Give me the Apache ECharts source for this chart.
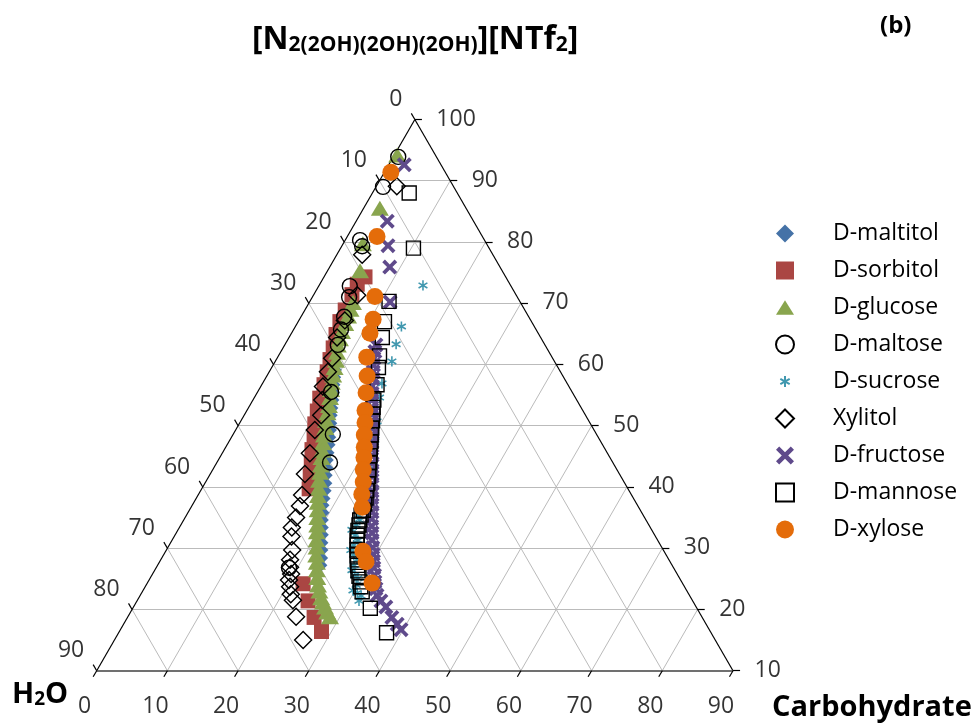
<!DOCTYPE html>
<html><head><meta charset="utf-8">
<script src="https://cdn.jsdelivr.net/npm/echarts@6/dist/echarts.min.js"></script>
<style>html,body{margin:0;padding:0;background:#fff}#c{width:978px;height:728px}</style>
</head><body><div id="c"></div>
<script>
// ---- data: water (wt%) and carbohydrate (wt%); ionic liquid = 100 - water - carbohydrate
const seriesNames = ['D-maltitol','D-sorbitol','D-glucose','D-maltose','D-sucrose','Xylitol','D-fructose','D-mannose','D-xylose'];

const maltitolWater = [29.1,29.9,30.6,31.3,31.9,32.6,33.3,34.0,34.7,35.5,36.2,36.9,37.5,38.2,38.9,39.7,40.4,41.1,41.8,42.5,43.2,44.0,44.7,45.3,46.0,46.6,47.2,47.9,48.5,49.2,49.9];
const maltitolCarb  = [6.9,7.4,7.9,8.5,9.0,9.5,10.0,10.6,11.1,11.6,12.1,12.7,13.2,13.7,14.2,14.7,15.2,15.8,16.3,16.9,17.4,17.9,18.3,18.9,19.4,20.0,20.6,21.2,21.8,22.4,22.9];

const sorbitolWater = [19.9,21.6,23.2,25.4,27.1,28.7,30.2,31.6,33.0,34.5,36.2,37.6,39.0,40.2,41.5,42.7,43.9,45.1,53.7,54.4,54.9,55.0];
const sorbitolCarb  = [5.8,5.3,5.4,5.7,5.9,6.4,7.1,7.6,8.2,8.8,9.3,10.0,10.7,11.7,12.4,13.4,14.3,15.2,22.1,24.2,26.4,28.6];

const glucoseWater = [5.4,12.2,17.5,20.1,23.7,24.6,25.5,26.5,27.6,28.5,29.3,30.0,30.8,31.6,32.4,33.2,33.9,34.7,35.5,36.3,37.1,37.8,38.6,39.4,40.1,40.8,41.5,42.2,43.0,43.7,44.4,45.0,45.6,46.3,46.9,47.5,48.2,48.8,49.5,50.0,50.6,51.2,51.7,52.0,52.3,52.4,52.5,52.6,52.6];
const glucoseCarb  = [0.4,2.3,2.8,4.6,6.2,6.4,6.6,6.8,7.0,7.3,7.5,8.0,8.5,8.9,9.3,9.7,10.2,10.7,11.2,11.6,12.0,12.5,12.9,13.4,13.9,14.4,14.9,15.4,15.9,16.5,17.0,17.5,18.1,18.7,19.3,19.8,20.4,21.0,21.6,22.3,22.9,23.6,24.3,25.0,25.8,26.4,27.1,27.8,28.6];

const maltoseWater = [5.4,10.0,17.6,17.8,22.8,23.8,26.1,27.6,29.3,34.1,37.3,40.0,54.4];
const maltoseCarb  = [0.7,1.0,2.1,2.9,4.4,5.2,6.1,6.7,7.5,10.4,14.1,16.0,18.8];

const sucroseWater = [12.4,18.8,21.0,23.0,26.2,27.7,30.0,31.8,34.7,37.7,40.3,41.4,42.4,43.4,44.2,45.0,45.7,46.3,46.8,47.2,40.5,42.4,42.4,44.2,44.1,45.7,45.5,47.2,46.5];
const sucroseCarb  = [14.7,15.0,15.7,16.5,16.9,17.7,19.3,20.5,22.6,24.4,24.3,24.8,25.5,26.1,26.9,27.8,28.7,29.7,30.5,31.4,24.9,24.6,26.3,26.1,27.8,27.9,29.4,29.7,31.3];

const xylitolWater = [8.0,18.5,22.5,26.3,28.8,31.2,32.9,34.8,36.0,37.4,39.5,42.1,44.5,46.6,47.8,49.3,50.7,51.5,52.5,53.6,54.2,54.6,55.4,55.8,56.3,56.5,57.4,58.3];
const xylitolCarb  = [2.9,3.6,6.2,6.5,6.8,7.8,8.3,8.8,9.8,10.9,11.2,12.4,13.4,14.7,15.3,15.7,15.9,16.6,17.8,18.3,18.9,19.6,19.8,20.5,21.2,22.0,23.8,26.7];

const fructoseWater = [5.2,12.2,14.1,15.6,18.4,23.9,24.6,25.3,25.9,26.5,27.1,27.8,28.4,29.0,29.6,30.1,30.7,31.3,31.8,32.4,33.0,33.5,34.1,34.7,35.2,35.8,36.4,37.0,37.5,38.1,38.7,39.3,39.8,40.4,40.9,41.4,41.9,42.4,42.9,43.4,43.8,44.2,44.1,43.9,43.9,43.7,43.6];
const fructoseCarb  = [2.2,4.4,6.5,8.5,11.4,12.9,13.3,13.7,14.2,14.7,15.2,15.7,16.3,16.8,17.4,18.0,18.5,19.1,19.7,20.3,20.8,21.4,22.0,22.6,23.1,23.7,24.3,24.8,25.4,26.0,26.5,27.1,27.7,28.3,29.0,29.6,30.2,30.8,31.5,32.1,32.8,33.5,34.5,35.7,37.4,38.7,39.7];

const mannoseWater = [6.8,10.7,18.5,20.8,22.4,24.3,25.4,27.0,28.7,29.4,30.0,30.6,31.3,31.9,32.5,33.2,33.8,34.4,35.1,35.7,36.4,37.1,37.8,38.5,39.2,39.9,40.5,41.0,41.6,42.1,42.5,42.9,43.3,43.7,44.1,44.5,44.9,45.2,45.5,45.8,46.0,46.2,45.9];
const mannoseCarb  = [5.2,10.3,11.2,12.2,13.2,14.3,15.1,16.3,17.1,17.6,18.1,18.6,19.1,19.6,20.1,20.6,21.1,21.6,22.1,22.6,23.1,23.5,24.0,24.3,24.6,24.7,24.9,25.2,25.5,25.8,26.2,26.6,27.0,27.4,27.8,28.3,28.8,29.4,30.0,30.5,31.1,33.6,37.9];

const xyloseWater = [7.7,14.9,20.1,22.2,23.8,26.2,27.7,29.2,30.8,31.8,32.9,33.9,34.8,35.9,36.9,38.1,39.1,42.6,43.0,43.9];
const xyloseCarb  = [0.9,4.2,8.8,10.4,11.1,12.6,14.2,15.4,16.7,17.7,18.6,19.6,20.4,21.3,22.3,23.1,24.2,27.9,29.2,31.8];

const waterTicks = [0,10,20,30,40,50,60,70,80,90];        // left side
const ilTicks    = [100,90,80,70,60,50,40,30,20,10];      // right side
const carbTicks  = [0,10,20,30,40,50,60,70,80,90];        // bottom side
const gridSteps  = [10,20,30,40,50,60,70,80];

// ---- ternary projection onto a cartesian value grid
const S = Math.sqrt(3) / 2;
function tern(w, c) { const il = 100 - w - c; return [(90 + c - w) / 2, (il - 10) * S]; }
function pts(W, C) { return W.map((w, i) => tern(w, C[i])); }

const gridLines = [];
gridSteps.forEach(k => {
  gridLines.push({ coords: [tern(k, 0), tern(k, 90 - k)] });
  gridLines.push({ coords: [tern(90 - k, k), tern(0, k)] });
  gridLines.push({ coords: [tern(90 - k, 0), tern(0, 90 - k)] });
});
const TL = 1;
const tickLines = [];
waterTicks.forEach(k => { const p = tern(k, 0); tickLines.push({ coords: [p, [p[0] - 0.5 * TL, p[1] + S * TL]] }); });
carbTicks.forEach(k => { const p = tern(90 - k, k); tickLines.push({ coords: [p, [p[0] - 0.5 * TL, p[1] - S * TL]] }); });
ilTicks.forEach(v => { const p = tern(0, 100 - v); tickLines.push({ coords: [p, [p[0] + TL, p[1]]] }); });

const FONT = 'Open Sans';
const black = '#000';
const open = 'rgba(0,0,0,0)';
const X_PATH = 'path://M0,2.5L2.5,0L7,4.5L11.5,0L14,2.5L9.5,7L14,11.5L11.5,14L7,9.5L2.5,14L0,11.5L4.5,7Z';
const AST_PATH = 'path://M0,0L0.001,0M20,20L20.001,20M10,4L10,16M4.8,7L15.2,13M4.8,13L15.2,7';
const TRI_PATH = 'path://M10,0L20,16L0,16Z';

function sc(name, W, C, symbol, size, itemStyle) {
  return { name, type: 'scatter', data: pts(W, C), symbol, symbolSize: size,
           itemStyle: Object.assign({ opacity: 1 }, itemStyle), z: 5, animation: false };
}
const dataSeries = [
  sc('D-maltitol', maltitolWater, maltitolCarb, 'diamond', 16, { color: '#4572A7' }),
  sc('D-sorbitol', sorbitolWater, sorbitolCarb, 'rect', 15, { color: '#AA4643' }),
  sc('D-glucose', glucoseWater, glucoseCarb, TRI_PATH, [18, 15], { color: '#89A54E' }),
  sc('D-maltose', maltoseWater, maltoseCarb, 'circle', 15, { color: open, borderColor: black, borderWidth: 1.4 }),
  sc('D-sucrose', sucroseWater, sucroseCarb, AST_PATH, 17, { color: '#4198AF', borderColor: '#4198AF', borderWidth: 1.6 }),
  sc('Xylitol', xylitolWater, xylitolCarb, 'diamond', 17, { color: open, borderColor: black, borderWidth: 1.4 }),
  sc('D-fructose', fructoseWater, fructoseCarb, X_PATH, 15, { color: '#5F4A8B' }),
  sc('D-mannose', mannoseWater, mannoseCarb, 'rect', 14, { color: open, borderColor: black, borderWidth: 1.4 }),
  sc('D-xylose', xyloseWater, xyloseCarb, 'circle', 17, { color: '#E46C0A' })
];

function labelSeries(data, pos, align, vAlign) {
  return {
    type: 'scatter', data, symbol: 'circle', symbolSize: 1, silent: true,
    itemStyle: { color: 'rgba(0,0,0,0)' }, z: 3, animation: false,
    label: { show: true, position: pos, align, verticalAlign: vAlign, formatter: p => String(p.value[2]),
             fontFamily: FONT, fontSize: 23, color: '#000' }
  };
}

const chart = echarts.init(document.getElementById('c'), null, { renderer: 'canvas' });
chart.setOption({
  animation: false,
  backgroundColor: '#fff',
  grid: { left: 96.7, top: 119.5, width: 636.3, height: 551.2, outerBoundsMode: 'none', containLabel: false },
  xAxis: { type: 'value', min: 0, max: 90, show: false },
  yAxis: { type: 'value', min: 0, max: 90 * S, show: false },
  legend: {
    orient: 'vertical', left: 775, top: 222, padding: 0,
    itemWidth: 18, itemHeight: 18, itemGap: 14,
    data: seriesNames,
    textStyle: { fontFamily: FONT, fontSize: 23, color: '#000', padding: [0, 0, 0, 34] }
  },
  graphic: [
    { type: 'text', left: 252, top: 24, style: {
        text: '{b|[N}{s|2(2OH)(2OH)(2OH)}{b|][NTf}{s|2}{b|]}',
        rich: {
          b: { fontFamily: FONT, fontWeight: 'bold', fontSize: 32, lineHeight: 32, verticalAlign: 'top', fill: '#000' },
          s: { fontFamily: FONT, fontWeight: 'bold', fontSize: 21, lineHeight: 12, verticalAlign: 'bottom', fill: '#000' }
        } } },
    { type: 'text', left: 880, top: 14, style: { text: '(b)', font: 'bold 24px "Open Sans"', fill: '#000' } },
    { type: 'text', left: 12, top: 680, style: {
        text: '{b|H}{s|2}{b|O}',
        rich: {
          b: { fontFamily: FONT, fontWeight: 'bold', fontSize: 29, lineHeight: 29, verticalAlign: 'top', fill: '#000' },
          s: { fontFamily: FONT, fontWeight: 'bold', fontSize: 19, lineHeight: 11, verticalAlign: 'bottom', fill: '#000' }
        } } },
    { type: 'text', left: 772, top: 693, style: { text: 'Carbohydrate', font: 'bold 29px "Open Sans"', fill: '#000' } }
  ],
  series: [
    { type: 'lines', coordinateSystem: 'cartesian2d', data: gridLines, silent: true, clip: false, z: 1, animation: false,
      lineStyle: { color: '#BBBBBB', width: 1, opacity: 1 } },
    { type: 'lines', coordinateSystem: 'cartesian2d', silent: true, clip: false, z: 2, animation: false,
      data: [{ coords: [tern(0, 0), tern(90, 0)] }, { coords: [tern(0, 0), tern(0, 90)] }],
      lineStyle: { color: '#000', width: 1.2, opacity: 1 } },
    { type: 'lines', coordinateSystem: 'cartesian2d', silent: true, clip: false, z: 2, animation: false,
      data: [{ coords: [tern(90, 0), tern(0, 90)] }],
      lineStyle: { color: '#404040', width: 1.6, opacity: 1 } },
    { type: 'lines', coordinateSystem: 'cartesian2d', data: tickLines, silent: true, clip: false, z: 2, animation: false,
      lineStyle: { color: '#000', width: 1.2, opacity: 1 } },
    labelSeries(waterTicks.map(k => [...tern(k, 0), k]), [-12, -19.5], 'right', 'middle'),
    labelSeries(ilTicks.map(v => [...tern(0, 100 - v), v]), [22, 0], 'left', 'middle'),
    labelSeries(carbTicks.map(k => [...tern(90 - k, k), k]), [-11.5, 36.5], 'center', 'middle'),
    ...dataSeries
  ]
});
</script></body></html>
